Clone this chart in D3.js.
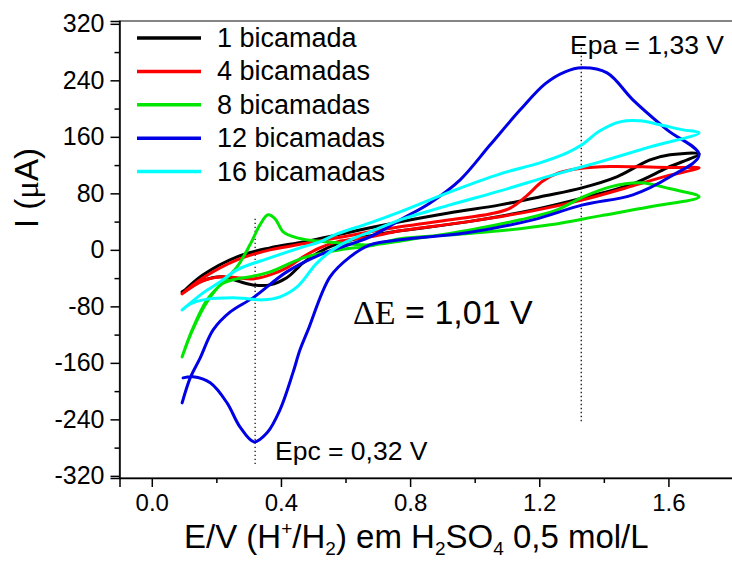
<!DOCTYPE html>
<html>
<head>
<meta charset="utf-8">
<script src="https://cdn.jsdelivr.net/npm/d3@7"></script>
<style>
  body { margin: 0; background: #fff; }
  svg { display: block; font-family: "Liberation Sans", Arial, sans-serif; }
  .tick text { fill: #000; }
</style>
</head>
<body>
<div id="cv_container"></div>
<script>
// legend / series
const seriesNames = ["1 bicamada", "4 bicamadas", "8 bicamadas", "12 bicamadas", "16 bicamadas"];
const seriesColors = ["#000000", "#ff0000", "#00e600", "#0000e6", "#00ffff"];

// [E (V), I (uA)] forward scan then return scan
const cv1 = [
  [0.094, -60.9], [0.159, -35.4], [0.264, -9.9], [0.366, 2.8], [0.469, 11.3], [0.574, 21.2],
  [0.676, 31.2], [0.769, 39.6], [0.924, 52.4], [1.079, 63.7], [1.218, 76.5], [1.332, 87.8],
  [1.44, 103.4], [1.543, 127.4], [1.605, 134.5], [1.695, 135.9],
  [1.596, 116.1], [1.49, 93.5], [1.335, 73.6], [1.18, 56.6], [0.976, 39.6], [0.769, 26.9],
  [0.676, 19.8], [0.574, 8.5], [0.52, -2.8], [0.469, -18.4], [0.418, -39.6], [0.366, -49.6],
  [0.313, -49.6], [0.264, -43.9], [0.218, -38.2], [0.156, -43.9], [0.094, -59.5]
];
const cv4 = [
  [0.094, -62.3], [0.159, -39.6], [0.264, -14.2], [0.366, 0], [0.469, 8.5], [0.574, 17],
  [0.676, 25.5], [0.769, 32.6], [0.924, 42.5], [1.05, 51], [1.11, 59], [1.16, 76],
  [1.21, 97], [1.26, 109], [1.33, 115.5], [1.42, 118], [1.52, 117.5], [1.6, 116.5], [1.695, 116.1],
  [1.596, 104.8], [1.49, 90.6], [1.335, 70.8], [1.18, 55.2], [0.976, 39.6], [0.769, 26.9],
  [0.676, 18.4], [0.574, 11.3], [0.52, 2.8], [0.469, -9.9], [0.418, -25.5], [0.366, -35.4],
  [0.313, -41.1], [0.264, -39.6], [0.218, -38.2], [0.159, -43.9], [0.094, -62.3]
];
const cv8 = [
  [0.094, -151.5], [0.125, -113.3], [0.171, -70.8], [0.218, -46.7], [0.264, -24.1], [0.304, 7.1],
  [0.335, 35.4], [0.36, 49.6], [0.382, 43.9], [0.407, 25.5], [0.45, 17], [0.574, 9.9],
  [0.676, 7.1], [0.831, 17], [0.986, 28.3], [1.141, 42.5], [1.255, 56.6], [1.336, 75],
  [1.42, 89.2], [1.513, 94.9], [1.606, 86.4], [1.695, 75],
  [1.543, 60.9], [1.388, 48.1], [1.234, 35.4], [1.079, 26.9], [0.924, 21.2], [0.769, 15.6],
  [0.676, 5.7], [0.583, 0], [0.469, -11.3], [0.366, -31.2], [0.304, -38.2], [0.264, -41.1],
  [0.218, -48.1], [0.171, -73.6], [0.125, -114.7], [0.094, -151.5]
];
const cv12 = [
  [0.094, -216.6], [0.119, -181.2], [0.15, -152.9], [0.19, -113.3], [0.243, -87.8], [0.313, -68],
  [0.418, -31.2], [0.52, -7.1], [0.676, 18.4], [0.769, 42.5], [0.862, 66.5], [0.955, 99.1],
  [1.048, 148.7], [1.141, 198.2], [1.218, 235], [1.28, 252], [1.332, 257.7], [1.41, 250.6],
  [1.49, 212.4], [1.596, 169.9], [1.695, 134.5],
  [1.605, 103.4], [1.49, 77.9], [1.335, 63.7], [1.18, 42.5], [0.976, 24.1], [0.769, 14.2],
  [0.676, 7.1], [0.614, -9.9], [0.552, -38.2], [0.484, -113.3], [0.459, -141.6], [0.437, -174.2],
  [0.397, -226.5], [0.357, -259.1], [0.317, -271.9], [0.273, -250.6], [0.233, -216.6],
  [0.181, -188.3], [0.128, -179.8], [0.097, -181.2]
];
const cv16 = [
  [0.094, -85], [0.159, -60.9], [0.212, -45.3], [0.264, -28.3], [0.366, -11.3], [0.469, 4.2],
  [0.52, 11.3], [0.574, 22.7], [0.676, 38.2], [0.769, 53.8], [0.924, 82.1], [1.079, 107.6],
  [1.202, 123.2], [1.286, 137.3], [1.332, 148.7], [1.388, 168.5], [1.45, 181.2], [1.512, 182.7],
  [1.574, 177], [1.645, 169.9], [1.695, 165.7],
  [1.543, 145.8], [1.388, 124.6], [1.234, 104.8], [1.079, 83.5], [0.924, 63.7], [0.769, 42.5],
  [0.676, 25.5], [0.636, 18.4], [0.574, 4.2], [0.512, -18.4], [0.45, -52.4], [0.397, -66.5],
  [0.345, -70.8], [0.264, -68], [0.159, -70.8], [0.119, -76.5], [0.094, -85]
];
const cvData = [cv1, cv4, cv8, cv12, cv16];

// ticks
const xMajorTicks = [0.0, 0.4, 0.8, 1.2, 1.6];
const xMinorTicks = [0.2, 0.6, 1.0, 1.4];
const yMajorTicks = [-320, -240, -160, -80, 0, 80, 160, 240, 320];
const yMinorTicks = [-280, -200, -120, -40, 40, 120, 200, 280];

// peak markers: [E, I top, I bottom]
const epcLine = [0.32, 44, -307];
const epaLine = [1.33, 286, -246];

const W = 732, H = 562;
const plot = { left: 119.5, top: 21, right: 733, bottom: 478 };

const svg = d3.select("#cv_container")
  .append("svg")
  .attr("width", W)
  .attr("height", H);

const x = d3.scaleLinear().domain([-0.1, 1.8]).range([plot.left, plot.right]);
const y = d3.scaleLinear().domain([-323, 324]).range([plot.bottom, plot.top]);

// frame
svg.append("rect")
  .attr("x", plot.left)
  .attr("y", plot.top)
  .attr("width", plot.right - plot.left)
  .attr("height", plot.bottom - plot.top)
  .attr("fill", "none")
  .attr("stroke", "#444")
  .attr("stroke-width", 1.3);

// y axis
const yAxis = svg.append("g")
  .attr("transform", `translate(${plot.left},0)`)
  .call(d3.axisLeft(y).tickValues(yMajorTicks).tickSize(9).tickPadding(6).tickFormat((d) => String(d)));
yAxis.append("g")
  .call(d3.axisLeft(y).tickValues(yMinorTicks).tickSize(5).tickFormat(""))
  .call((g) => g.select(".domain").remove());
yAxis.selectAll("path, line").attr("stroke", "#000").attr("stroke-width", 1.5);
yAxis.selectAll("text").style("font-size", "25px");

// x axis
const xAxis = svg.append("g")
  .attr("transform", `translate(0,${plot.bottom})`)
  .call(d3.axisBottom(x).tickValues(xMajorTicks).tickSize(9).tickPadding(7).tickFormat((d) => d.toFixed(1)));
xAxis.append("g")
  .call(d3.axisBottom(x).tickValues(xMinorTicks).tickSize(5).tickFormat(""))
  .call((g) => g.select(".domain").remove());
xAxis.selectAll("path, line").attr("stroke", "#000").attr("stroke-width", 1.5);
xAxis.selectAll("text").style("font-size", "24px");

// dotted peak lines
[epcLine, epaLine].forEach((d) => {
  svg.append("line")
    .attr("x1", x(d[0])).attr("x2", x(d[0]))
    .attr("y1", y(d[1])).attr("y2", y(d[2]))
    .attr("stroke", "#000")
    .attr("stroke-width", 1.2)
    .attr("stroke-dasharray", "1.3,2.7");
});

// curves
const line = d3.line()
  .x((d) => x(d[0]))
  .y((d) => y(d[1]))
  .curve(d3.curveCatmullRom.alpha(0.5));

svg.append("g")
  .selectAll("path")
  .data(cvData)
  .join("path")
  .attr("d", line)
  .attr("fill", "none")
  .attr("stroke", (d, i) => seriesColors[i])
  .attr("stroke-width", 3)
  .attr("stroke-linejoin", "round")
  .attr("stroke-linecap", "round");

// legend
const legend = svg.append("g").attr("transform", "translate(137,38)");
seriesNames.forEach((name, i) => {
  legend.append("line")
    .attr("x1", 0).attr("x2", 64)
    .attr("y1", i * 33.4).attr("y2", i * 33.4)
    .attr("stroke", seriesColors[i])
    .attr("stroke-width", 3.5);
  legend.append("text")
    .attr("x", 80)
    .attr("y", i * 33.4 + 9)
    .style("font-size", "27px")
    .text(name);
});

// annotations
svg.append("text")
  .attr("x", 570).attr("y", 54)
  .style("font-size", "26.5px")
  .text("Epa = 1,33 V");
svg.append("text")
  .attr("x", 275).attr("y", 460)
  .style("font-size", "26.5px")
  .text("Epc = 0,32 V");

const dE = svg.append("text")
  .attr("x", 353).attr("y", 324)
  .style("font-size", "34px");
dE.append("tspan").style("font-family", "'Liberation Serif', 'Times New Roman', serif").text("ΔE");
dE.append("tspan").text(" = 1,01 V");

// axis titles
const yTitle = svg.append("text")
  .attr("transform", "translate(38,188) rotate(-90)")
  .attr("text-anchor", "middle")
  .style("font-size", "33px");
yTitle.append("tspan").text("I (");
yTitle.append("tspan").style("font-family", "'Liberation Serif', 'Times New Roman', serif").text("μ");
yTitle.append("tspan").text("A)");

const xTitle = svg.append("text")
  .attr("x", 184).attr("y", 548)
  .style("font-size", "33px");
xTitle.append("tspan").text("E/V (H");
xTitle.append("tspan").attr("dy", -13).style("font-size", "19px").text("+");
xTitle.append("tspan").attr("dy", 13).text("/H");
xTitle.append("tspan").attr("dy", 7).style("font-size", "19px").text("2");
xTitle.append("tspan").attr("dy", -7).text(") em H");
xTitle.append("tspan").attr("dy", 7).style("font-size", "19px").text("2");
xTitle.append("tspan").attr("dy", -7).text("SO");
xTitle.append("tspan").attr("dy", 7).style("font-size", "19px").text("4");
xTitle.append("tspan").attr("dy", -7).text(" 0,5 mol/L");
</script>
</body>
</html>
